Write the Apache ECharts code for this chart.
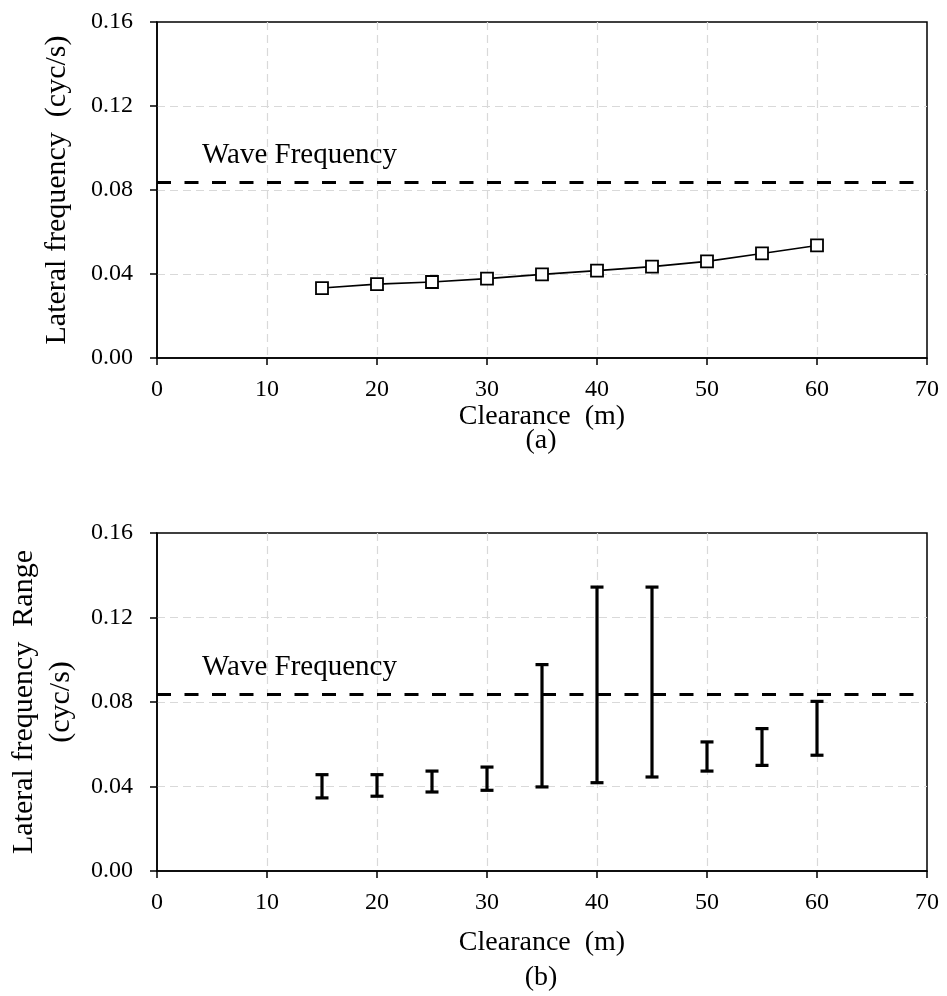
<!DOCTYPE html>
<html>
<head>
<meta charset="utf-8">
<script src="https://cdn.jsdelivr.net/npm/echarts@6/dist/echarts.min.js"></script>
<style>
  html, body { margin: 0; padding: 0; background: #fff; }
  #chart { width: 947px; height: 996px; }
</style>
</head>
<body>
<div id="chart"></div>
<script>
// Clearance values (m) shared by both panels
const clearance = [15, 20, 25, 30, 35, 40, 45, 50, 55, 60];
// Panel (a): lateral frequency (cyc/s)
const lateralFreq = [0.0333, 0.0352, 0.0362, 0.0378, 0.0398, 0.0416, 0.0435, 0.046, 0.0498, 0.0536];
// Panel (b): lateral frequency range, lower and upper bounds (cyc/s)
const freqLow  = [0.0346, 0.0354, 0.0374, 0.0382, 0.0398, 0.0418, 0.0445, 0.0473, 0.0500, 0.0548];
const freqHigh = [0.0456, 0.0456, 0.0473, 0.0492, 0.0977, 0.1344, 0.1344, 0.0611, 0.0674, 0.0803];
// Wave frequency reference level (cyc/s)
const waveFreq = 0.0835;
// Tick settings
const xTicks = { min: 0, max: 70, interval: 10 };
const yTicks = { min: 0, max: 0.16, interval: 0.04 };

const FONT = '"Liberation Serif", "Times New Roman", serif';

const chart = echarts.init(document.getElementById('chart'), null, { renderer: 'canvas' });

function xAxisCfg(gridIndex, gap) {
  return {
    type: 'value', gridIndex,
    min: xTicks.min, max: xTicks.max, interval: xTicks.interval,
    name: 'Clearance  (m)', nameLocation: 'middle', nameGap: gap,
    nameTextStyle: { fontFamily: FONT, fontSize: 28, color: '#000' },
    axisLine: { show: true, onZero: false, lineStyle: { color: '#000', width: 1.5 } },
    axisTick: { show: true, inside: false, length: 7, lineStyle: { color: '#000', width: 1.5 } },
    axisLabel: { fontFamily: FONT, fontSize: 24, color: '#000', margin: 20 },
    splitLine: { show: true, showMinLine: false, showMaxLine: false,
                 lineStyle: { color: '#d9d9d9', width: 1.2, type: [8, 5] } }
  };
}
function yAxisCfg(gridIndex, name, gap) {
  return {
    type: 'value', gridIndex,
    min: yTicks.min, max: yTicks.max, interval: yTicks.interval,
    name, nameLocation: 'middle', nameGap: gap, nameRotate: 90,
    nameTextStyle: { fontFamily: FONT, fontSize: 30, color: '#000', lineHeight: 37 },
    axisLine: { show: true, onZero: false, lineStyle: { color: '#000', width: 1.5 } },
    axisTick: { show: true, inside: false, length: 7, lineStyle: { color: '#000', width: 1.5 } },
    axisLabel: { fontFamily: FONT, fontSize: 24, color: '#000', margin: 24,
                 formatter: v => v.toFixed(2) },
    splitLine: { show: true, showMinLine: false, showMaxLine: false,
                 lineStyle: { color: '#d9d9d9', width: 1.2, type: [8, 5] } }
  };
}

function waveMarkLine() {
  return {
    silent: true,
    precision: 4,
    symbol: ['none', 'none'],
    lineStyle: { color: '#000', width: 3, type: [14, 13.5] },
    label: {
      show: true, position: 'insideStartTop', formatter: 'Wave Frequency',
      fontFamily: FONT, fontSize: 29, color: '#000',
      padding: [0, 0, 8, 40]
    },
    data: [{ yAxis: waveFreq }]
  };
}

const rangeData = clearance.map((c, i) => [c, freqLow[i], freqHigh[i]]);

chart.setOption({
  animation: false,
  backgroundColor: '#fff',
  grid: [
    { left: 157, right: 20, top: 22, height: 336, show: true, borderColor: '#000', borderWidth: 1.5,
      containLabel: false, outerBoundsMode: 'none' },
    { left: 157, right: 20, top: 533, height: 338, show: true, borderColor: '#000', borderWidth: 1.5,
      containLabel: false, outerBoundsMode: 'none' }
  ],
  xAxis: [xAxisCfg(0, 40), xAxisCfg(1, 58)],
  yAxis: [
    yAxisCfg(0, 'Lateral frequency  (cyc/s)', 81),
    yAxisCfg(1, 'Lateral frequency  Range\n(cyc/s)', 75)
  ],
  graphic: [
    { type: 'text', x: 541, y: 441, style: { text: '(a)', fontFamily: FONT, fontSize: 28, fill: '#000', textAlign: 'center', textVerticalAlign: 'middle' } },
    { type: 'text', x: 541, y: 978, style: { text: '(b)', fontFamily: FONT, fontSize: 28, fill: '#000', textAlign: 'center', textVerticalAlign: 'middle' } }
  ],
  series: [
    {
      type: 'line', xAxisIndex: 0, yAxisIndex: 0,
      data: clearance.map((c, i) => [c, lateralFreq[i]]),
      symbol: 'rect', symbolSize: 12, showAllSymbol: true,
      lineStyle: { color: '#000', width: 1.6 },
      itemStyle: { color: '#fff', borderColor: '#000', borderWidth: 1.8 },
      markLine: waveMarkLine(),
      z: 5
    },
    {
      type: 'custom', xAxisIndex: 1, yAxisIndex: 1,
      data: rangeData,
      encode: { x: 0, y: [1, 2] },
      renderItem: function (params, api) {
        const x = api.value(0);
        const lo = api.coord([x, api.value(1)]);
        const hi = api.coord([x, api.value(2)]);
        const half = 6.5;
        const style = { stroke: '#000', lineWidth: 3.2 };
        return {
          type: 'group',
          children: [
            { type: 'line', shape: { x1: lo[0], y1: lo[1], x2: hi[0], y2: hi[1] }, style },
            { type: 'line', shape: { x1: hi[0] - half, y1: hi[1], x2: hi[0] + half, y2: hi[1] }, style },
            { type: 'line', shape: { x1: lo[0] - half, y1: lo[1], x2: lo[0] + half, y2: lo[1] }, style }
          ]
        };
      },
      z: 5
    },
    {
      type: 'line', xAxisIndex: 1, yAxisIndex: 1,
      data: [], symbol: 'none',
      markLine: waveMarkLine(),
      z: 4
    }
  ]
});
</script>
</body>
</html>
